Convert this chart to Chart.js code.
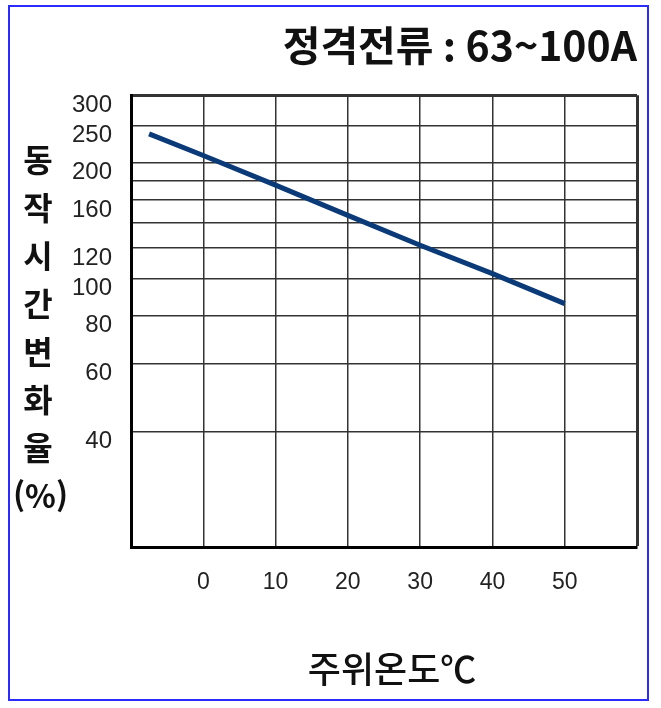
<!DOCTYPE html>
<html lang="ko">
<head>
<meta charset="utf-8">
<title>정격전류 : 63~100A</title>
<script src="https://cdn.jsdelivr.net/npm/chart.js@4.4.1/dist/chart.umd.min.js"></script>
<style>
    html, body { margin: 0; padding: 0; background: #fff; }
    #wrap { position: relative; width: 661px; height: 708px; }
    #frame {
        position: absolute; left: 8px; top: 5px; width: 637px; height: 692px;
        border: 2px solid #2b2bff; box-sizing: content-box;
    }
    #ytitle {
        position: absolute; left: 13px; top: 134px; width: 50px;
        font-family: "Noto Sans CJK KR", sans-serif; font-weight: 700;
        font-size: 32px; line-height: 48px; text-align: center; color: #111;
    }
    canvas { position: absolute; left: 0; top: 0; }
</style>
</head>
<body>
<div id="wrap">
    <div id="frame"></div>
    <canvas id="chart" width="661" height="708"></canvas>
    <div id="ytitle">동<br>작<br>시<br>간<br>변<br>화<br>율<br>(%)</div>
</div>
<script>
// ---------- 데이터 ----------
const TEMP = [-7.5, 0, 10, 20, 30, 40, 50];          // 주위온도 (°C)
const RATE = [238, 209, 175, 146, 122, 103, 86];       // 동작시간 변화율 (%)

const Y_GRID = [20, 40, 60, 80, 100, 120, 140, 160, 180, 200, 250, 300];
const Y_LABELS = [40, 60, 80, 100, 120, 160, 200, 250, 300];
const X_LABELS = [0, 10, 20, 30, 40, 50];

const points = TEMP.map((t, i) => ({ x: t, y: RATE[i] }));

const ctx = document.getElementById('chart');
new Chart(ctx, {
    type: 'line',
    data: {
        datasets: [{
            data: points,
            borderColor: '#0b3a78',
            borderWidth: 5,
            borderCapStyle: 'butt',
            pointRadius: 0,
            tension: 0,
            fill: false
        }]
    },
    options: {
        responsive: false,
        animation: false,
        layout: { padding: { left: 0, right: 24, top: 0, bottom: 0 } },
        plugins: {
            legend: { display: false },
            tooltip: { enabled: false },
            title: {
                display: true,
                text: '정격전류 : 63~100A',
                align: 'end',
                color: '#111',
                font: { family: '"Noto Sans CJK KR", sans-serif', size: 41, weight: 'bold' },
                padding: { top: 21, bottom: 25 }
            }
        },
        scales: {
            x: {
                type: 'linear',
                min: -10,
                max: 60,
                afterFit: s => { s.height = 161; },
                ticks: {
                    stepSize: 10,
                    padding: 22,
                    color: '#222',
                    font: { family: '"Liberation Sans", Arial, sans-serif', size: 23 },
                    callback: v => X_LABELS.includes(v) ? String(v) : ''
                },
                grid: {
                    drawTicks: false,
                    color: '#333',
                    lineWidth: c => c.tick && c.tick.value === 60 ? 3 : 1.5
                },
                border: { display: true, color: '#000', width: 3 },
                title: {
                    display: true,
                    text: '  주위온도℃',
                    color: '#111',
                    font: { family: '"Noto Sans CJK KR", sans-serif', size: 36, weight: '500' },
                    padding: { top: 0, bottom: 17 }
                }
            },
            y: {
                type: 'logarithmic',
                min: 20,
                max: 300,
                afterFit: s => { s.width = 131; },
                afterBuildTicks: s => { s.ticks = Y_GRID.map(v => ({ value: v })); },
                ticks: {
                    padding: 19,
                    labelOffset: 10,
                    autoSkip: false,
                    color: '#222',
                    font: { family: '"Liberation Sans", Arial, sans-serif', size: 24 },
                    callback: v => Y_LABELS.includes(v) ? String(v) : ''
                },
                grid: {
                    drawTicks: false,
                    color: '#333',
                    lineWidth: c => c.tick && c.tick.value === 300 ? 3 : 1.5
                },
                border: { display: true, color: '#000', width: 3 }
            }
        }
    }
});
</script>
</body>
</html>
